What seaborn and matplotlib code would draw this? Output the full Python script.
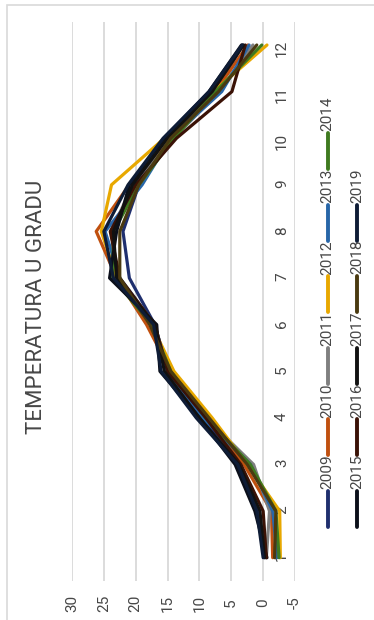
import numpy as np
import pandas as pd
import matplotlib
matplotlib.use("Agg")
import matplotlib.pyplot as plt
import seaborn as sns
from matplotlib.lines import Line2D
from matplotlib.patches import Rectangle

# ---------------- data ----------------
months = [1, 2, 3, 4, 5, 6, 7, 8, 9, 10, 11, 12]
years = [2009, 2010, 2011, 2012, 2013, 2014, 2015, 2016, 2017, 2018, 2019]

t2009 = [-0.3, 0.8, 4.0, 9.5, 15.0, 17.0, 21.0, 22.0, 19.5, 14.5, 7.5, 3.2]
t2010 = [-1.5, -1.3, 3.0, 8.5, 14.5, 18.3, 23.0, 26.2, 21.0, 14.0, 7.5, 2.4]
t2011 = [-0.5, -1.0, 1.5, 9.0, 14.5, 17.5, 23.0, 23.8, 20.5, 14.0, 7.0, 1.6]
t2012 = [-2.7, -2.6, 2.5, 8.0, 14.0, 17.5, 23.0, 25.4, 23.8, 15.5, 7.8, -0.6]
t2013 = [-2.2, -1.5, 2.0, 9.5, 15.0, 17.0, 22.5, 24.8, 19.0, 14.5, 6.5, 2.2]
t2014 = [-2.5, -2.0, 2.0, 9.0, 14.5, 17.5, 23.6, 23.5, 19.5, 14.0, 7.5, 0.2]
t2015 = [-0.6, 1.3, 4.4, 10.0, 16.2, 16.7, 24.1, 23.0, 21.0, 15.5, 8.5, 3.4]
t2016 = [-0.5, 0.0, 3.5, 9.0, 15.0, 17.0, 22.5, 24.0, 20.0, 13.6, 4.9, 2.8]
t2017 = [-0.2, 0.5, 3.8, 10.0, 15.5, 17.0, 23.0, 23.5, 20.5, 15.0, 8.0, 3.1]
t2018 = [-1.8, -2.0, 2.5, 8.5, 14.5, 17.8, 22.5, 22.5, 19.5, 14.5, 7.0, 1.0]
t2019 = [0.0, 1.0, 4.0, 10.5, 16.0, 17.2, 23.5, 25.0, 21.2, 15.7, 8.5, 3.3]

series = [t2009, t2010, t2011, t2012, t2013, t2014,
          t2015, t2016, t2017, t2018, t2019]

colors = ["#1F2F6E", "#C0500F", "#7F7F7F", "#E8A800", "#2866A8", "#3F7A1F",
          "#0B0F1A", "#3A1206", "#111111", "#4A3A10", "#0E1C36"]

value_ticks = [30, 25, 20, 15, 10, 5, 0, -5]
title = "TEMPERATURA U GRADU"

# ---------------- long table ----------------
df = pd.DataFrame({
    "year": np.repeat(years, len(months)),
    "month": months * len(years),
    "temp": np.concatenate(series),
})

sns.set_theme(style="white")
plt.rcParams["font.family"] = ["Roboto", "DejaVu Sans"]
txt_col = "#474747"

W, H = 374, 620
fig = plt.figure(figsize=(W / 100, H / 100), dpi=100)
fig.patch.set_facecolor("white")

# plot area (chart is rotated: values run horizontally, months vertically)
x_left, x_right = 72, 295
y_top, y_bot = 21.7, 581
ax = fig.add_axes([x_left / W, 1 - y_bot / H, (x_right - x_left) / W, (y_bot - y_top) / H])
ax.set_facecolor("white")

sns.lineplot(data=df, x="temp", y="month", hue="year", orient="y",
             palette=dict(zip(years, colors)), estimator=None,
             linewidth=2.3, legend=False, ax=ax)

ax.set_xlim(30, -5)
ax.set_ylim(0.5, 12.5)
ax.set_xlabel("")
ax.set_ylabel("")
for s in ax.spines.values():
    s.set_visible(False)

ax.set_xticks(value_ticks)
ax.set_xticklabels([str(v) for v in value_ticks])
ax.grid(True, axis="x", color="#D9D9D9", linewidth=1.3)
ax.grid(False, axis="y")
ax.tick_params(axis="x", length=0, pad=15.8, labelrotation=90,
               labelsize=11, colors=txt_col)
for lab in ax.get_xticklabels():
    lab.set_va("center")

ax.set_yticks(months)
ax.set_yticklabels([str(m) for m in months])
ax.yaxis.tick_right()
ax.tick_params(axis="y", length=0, pad=-9.4, labelrotation=90,
               labelsize=11, colors=txt_col)
for lab in ax.get_yticklabels():
    lab.set_ha("center")

# title
fig.text(37 / W, 1 - 307 / H, title, rotation=90, ha="center", va="center",
         fontsize=16, color=txt_col)

# legend (rotated, drawn manually)
step = 71.6
for i, (yr, col) in enumerate(zip(years, colors)):
    row = 0 if i < 6 else 1
    k = i if i < 6 else i - 6
    xc = 327.5 if row == 0 else 357
    yb = 527 - step * k
    fig.add_artist(Line2D([xc / W, xc / W], [1 - yb / H, 1 - (yb - 36) / H],
                          color=col, lw=2.8, solid_capstyle="round"))
    fig.text(xc / W, 1 - (472 - step * k) / H, str(yr), rotation=90,
             ha="center", va="center", fontsize=11, color=txt_col)

# chart border
fig.add_artist(Rectangle((7 / W, -0.1), 1.2, (1 - 5 / H) + 0.1,
                         transform=fig.transFigure, fill=False,
                         ec="#D9D9D9", lw=1.2))

fig.savefig("out.png", dpi=100, facecolor="white")
